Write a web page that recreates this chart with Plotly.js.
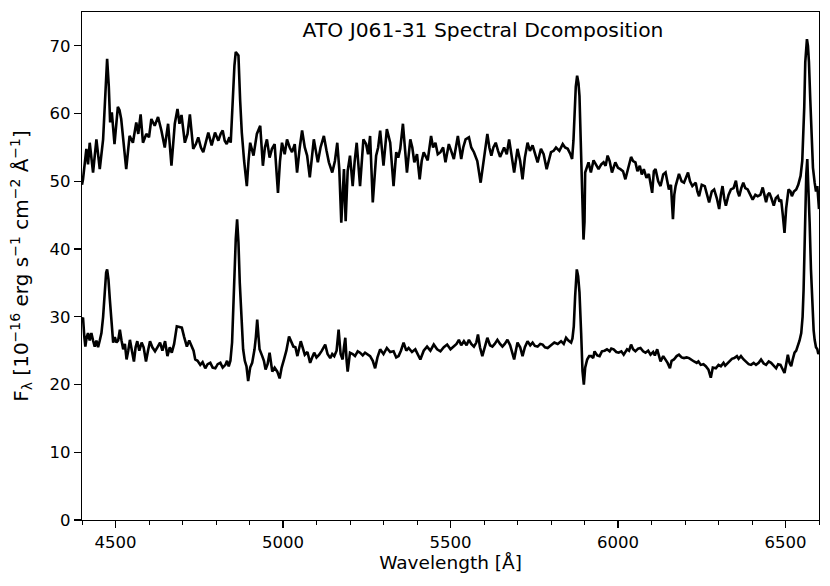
<!DOCTYPE html>
<html>
<head>
<meta charset="utf-8">
<script src="https://cdn.plot.ly/plotly-3.0.1.min.js"></script>
<style>html,body{margin:0;padding:0;background:#fff;}#chart{width:830px;height:586px;}</style>
</head>
<body>
<div id="chart"></div>
<script>
// Upper spectrum (wavelength in Angstrom, flux in 1e-16 erg/s/cm2/A)
const upperWave = [4400,4403,4413,4418,4423,4433,4443,4453,4463,4468,4475,4480,4484,4489,4497,4507,4512,4517,4525,4532,4542,4552,4562,4568,4575,4582,4592,4600,4607,4617,4627,4637,4647,4657,4667,4677,4685,4691,4697,4707,4715,4722,4732,4740,4747,4755,4762,4770,4777,4787,4797,4807,4814,4820,4826,4832,4840,4844,4850,4855,4859,4864,4867,4872,4877,4884,4892,4897,4902,4912,4922,4932,4940,4946,4952,4960,4967,4975,4980,4985,4991,4997,5005,5012,5020,5027,5035,5042,5050,5057,5065,5072,5080,5086,5092,5098,5104,5112,5122,5130,5137,5147,5155,5162,5168,5174,5178,5182,5187,5193,5200,5208,5214,5220,5230,5240,5248,5254,5260,5268,5278,5284,5290,5300,5310,5320,5330,5338,5344,5350,5358,5364,5370,5380,5386,5392,5400,5408,5414,5420,5432,5442,5448,5455,5462,5470,5478,5485,5495,5502,5510,5522,5532,5538,5545,5555,5562,5570,5580,5590,5600,5610,5616,5622,5628,5635,5642,5648,5660,5668,5675,5682,5690,5700,5708,5715,5722,5730,5737,5745,5752,5760,5770,5778,5787,5795,5800,5808,5815,5825,5835,5842,5850,5858,5863,5867,5870,5874,5878,5882,5885,5890,5894,5897,5900,5902,5912,5919,5927,5935,5942,5950,5957,5963,5969,5975,5982,5992,6000,6007,6015,6022,6030,6039,6045,6052,6058,6065,6071,6077,6085,6092,6102,6107,6112,6120,6127,6135,6142,6147,6152,6158,6164,6168,6172,6182,6190,6197,6203,6209,6215,6222,6232,6237,6242,6250,6259,6265,6272,6280,6287,6295,6302,6307,6312,6317,6322,6330,6337,6345,6352,6357,6362,6368,6374,6380,6387,6395,6402,6410,6417,6425,6432,6437,6442,6447,6452,6458,6465,6471,6477,6482,6487,6492,6497,6502,6509,6515,6519,6525,6532,6538,6545,6550,6553,6556,6559,6562,6564,6567,6570,6574,6577,6582,6587,6591,6595,6598,6600];
const upperFlux = [49.5,50.3,54.8,52.5,55.7,51.3,56.2,51.8,56.2,62,68.1,64,58.7,60.2,55.5,61.0,60.5,59.2,55,51.8,56.7,55.7,58.7,57,59.9,55.7,57.0,56.5,59.2,58.2,59.5,57.5,55.0,58.5,52.3,58.5,60.7,58.5,59.8,55.7,57,59.9,54.8,55.5,56.5,55,54.3,56,57.2,55.3,57.2,56.0,57,57.5,56,55.5,56.5,55.7,62,67.1,69.1,68.8,68.6,62,57.2,53,49.3,53,55.7,53.8,57.0,58.2,52.3,55,56.2,53.5,54.8,55.5,52,48.3,53,55.7,54,56.2,55,54.3,55.5,51.3,55,57.5,55,53.8,50.6,54,56.2,54.5,52.8,55,56.7,54.5,52.8,51.3,53,55.7,51.8,43.9,48,51.8,44.1,51.5,53.8,49.3,53,55.7,49.3,56.2,55.5,54,56.7,46.9,53.8,55,57.5,52.3,57.7,55.7,49.3,54.3,53.5,54.8,58.5,55,51.3,56.2,55,52.8,54,50.3,53,54.3,53.1,56.7,55,55.7,54,54.3,55,52.8,55.5,54.5,53.3,56.7,53.3,55,56.2,56.5,55,54.3,53,49.8,53.3,57,55,53.8,55,55.7,54.5,53.6,55.0,54,56.2,54,51.3,54.8,53,50.3,53.5,55.7,54.5,55.3,54,52.8,54.8,54,51.8,53.5,54.3,54.5,55.0,54.5,55.5,55,54.8,54,53.3,56,60.2,64,65.6,64.5,62.6,52.8,43,41.4,44,51.3,52.8,51.3,53.1,52.5,51.8,52.5,52.8,52.3,53.8,53,51.3,52.8,52,51.8,51.5,50.3,52,53.6,53,52.8,51.5,52.3,51,51.8,50.5,51.1,48.3,51.5,51.8,50,49.3,51,51.3,50,48.8,49.5,44.4,48,49.3,51.1,50,49.8,50.5,51.3,50,49.3,49.8,48.5,47.8,49.5,49.3,48,46.9,48.5,48.8,47.5,45.9,48,49.3,47.5,46.4,48,48.8,49,50.1,48.5,47.8,49,49.8,49,48.8,48,47.3,48,47.8,48,49.1,48,46.9,48,48.3,47.5,46.4,47.5,47.8,47,47.3,45,42.4,46,48.8,48.5,47.8,48.5,48.8,49.5,50.8,53,56,61,67.6,70.5,71.0,70,67.6,62,57.2,52,49.8,48.5,49.3,47.5,45.9];

// Lower spectrum
const lowerWave = [4400,4403,4407,4410,4414,4418,4423,4428,4433,4438,4443,4448,4453,4458,4463,4468,4472,4475,4479,4483,4488,4493,4498,4503,4508,4513,4518,4523,4528,4533,4538,4543,4549,4555,4560,4565,4571,4578,4584,4591,4597,4603,4610,4618,4625,4633,4640,4648,4655,4662,4668,4675,4683,4690,4698,4705,4713,4720,4728,4733,4738,4745,4753,4760,4768,4775,4783,4790,4798,4805,4813,4820,4828,4833,4838,4843,4848,4852,4855,4859,4863,4867,4871,4876,4881,4886,4891,4896,4902,4908,4915,4919,4923,4927,4930,4938,4943,4948,4954,4960,4968,4975,4983,4990,4996,5003,5010,5018,5024,5031,5037,5043,5053,5060,5065,5073,5081,5087,5093,5100,5108,5116,5126,5133,5141,5147,5153,5160,5166,5172,5178,5182,5186,5190,5193,5200,5208,5215,5223,5230,5238,5245,5253,5260,5268,5275,5282,5290,5300,5310,5320,5330,5338,5345,5352,5360,5368,5375,5385,5395,5402,5410,5420,5430,5440,5450,5460,5470,5480,5490,5500,5510,5518,5525,5532,5540,5548,5555,5562,5570,5577,5582,5588,5595,5602,5610,5618,5625,5632,5640,5648,5655,5662,5670,5678,5685,5690,5695,5700,5708,5715,5722,5730,5738,5745,5752,5760,5768,5775,5782,5790,5800,5810,5820,5830,5838,5845,5852,5860,5864,5868,5872,5877,5881,5885,5890,5894,5898,5902,5908,5914,5920,5926,5930,5938,5945,5952,5960,5967,5975,5980,5987,5995,6002,6010,6017,6027,6033,6039,6045,6052,6060,6067,6075,6082,6090,6097,6105,6110,6117,6122,6127,6135,6142,6148,6155,6160,6167,6175,6182,6190,6197,6205,6212,6220,6227,6235,6240,6247,6255,6262,6270,6277,6283,6292,6300,6307,6315,6320,6327,6335,6340,6347,6355,6360,6367,6375,6382,6390,6397,6405,6412,6420,6427,6435,6442,6450,6457,6465,6472,6478,6485,6490,6497,6502,6507,6512,6517,6522,6527,6532,6537,6542,6547,6551,6554,6557,6559,6562,6565,6568,6572,6576,6580,6584,6587,6591,6595,6598,6600];
const lowerFlux = [29.5,29.9,27,25.6,27,27.6,26.5,27.6,26.5,25.6,26.5,25.5,26.5,27.6,30,34.5,36.5,37.0,35.5,32.6,28.5,26.2,27,26.2,26.5,28.1,26.5,25.2,26,23.7,25,26.6,25,23.4,25.5,26.4,25,26.2,25.5,23.4,25,26.4,25.5,24.9,25.5,26.2,25,26.4,24.2,25.5,24.7,26,28.6,28.5,28.4,27,25.6,26.5,25.6,25,23.7,23.5,22.9,23.3,22.4,23,23.2,22.5,22.4,23,23.2,22.5,22.9,23.5,22.7,23.5,26.2,32,37.5,41.5,44.4,41,35.0,29,25.2,23.5,22.7,20.5,22.5,23.2,25.2,27,29.6,27,25.2,24.2,23.5,22.2,23,24.7,21.9,22.5,21.9,20.9,22.5,23.7,25,27.1,26.5,25.6,25.5,24.2,26.4,25,24.4,24.8,23.2,24,24.7,24,24.4,25,25.9,24.5,23.9,24.5,24.2,25,28.1,24.5,23.7,25.5,26.9,23.5,21.9,24.7,24.5,24.2,24.9,24.7,24.3,24.7,24.4,24.2,23.5,22.4,24,25.2,24.5,25.4,24.8,24.9,24,24.2,25,26.2,25,25.4,24.8,25.2,24.5,23.7,25,25.6,25,25.9,25.2,24.9,25.5,25.9,25.2,25.6,26,26.6,25.8,26.4,25.8,26.6,26,25.6,26.2,27.4,25.5,24.2,25.5,26.9,25.8,25.6,26,26.6,26,25.6,26,26.6,25.8,24.7,23.7,25,26.2,25.5,24.2,25.5,26.4,25.8,26.2,25.7,25.6,26,25.9,25.5,25.4,25.8,26.2,26,26.4,26,26.9,26.5,26.2,26.8,28.6,33,37.0,36,33.6,27.6,22,20.0,22.5,23.7,24.2,24.2,23.9,24.9,24.3,24.2,24.9,25,25.2,24.9,25.3,25.2,24.8,24.7,24.9,24.4,25.2,25,25.9,25.2,24.9,25.3,25.4,24.9,24.7,25,24.4,24.8,24.3,25.2,24.2,23.4,24.2,23.7,23.2,22.4,23.5,23.7,24.2,24.4,24,23.9,24,23.9,23.6,23.4,23.2,23.4,22.9,23,22.7,22.2,21.0,22.5,22.4,22.9,22.7,23.2,22.8,23.2,23.5,23.8,23.9,24.2,23.8,24.2,23.7,23.4,23,22.9,23.2,22.9,23.2,23.7,23.1,22.9,23.4,23.2,22.8,22.4,23,22.9,22.4,21.7,23,24.4,23.2,22.7,23.8,24.7,25,25.7,26.5,27.6,30,34.0,40,46.4,51,53.3,50,44,37,31.6,28,26.6,25.5,25.2,24.5,24.7];

const titleText = "ATO J061-31 Spectral Dcomposition";
const xLabel = "Wavelength [Å]";
const yLabel = "F<sub>λ</sub> [10<sup>−16</sup> erg s<sup>−1</sup> cm<sup>−2</sup> Å<sup>−1</sup>]";
const xTicks = [4500, 5000, 5500, 6000, 6500];
const yTicks = [0, 10, 20, 30, 40, 50, 60, 70];

const lineStyle = {color: '#000000', width: 2.6};
const traces = [
  {x: upperWave, y: upperFlux, type: 'scatter', mode: 'lines', line: lineStyle, hoverinfo: 'skip'},
  {x: lowerWave, y: lowerFlux, type: 'scatter', mode: 'lines', line: lineStyle, hoverinfo: 'skip'}
];

const fontFam = '"DejaVu Sans", Verdana, sans-serif';
const layout = {
  width: 830, height: 586,
  margin: {l: 82, r: 11, t: 12, b: 66},
  paper_bgcolor: '#ffffff', plot_bgcolor: '#ffffff',
  showlegend: false,
  font: {family: fontFam, size: 16.5, color: '#000000'},
  title: {text: titleText, font: {family: fontFam, size: 20.3, color: '#000'}, x: 483/830, xanchor: 'center', xref: 'container', y: 1 - 30/586, yanchor: 'middle', yref: 'container'},
  xaxis: {
    range: [4400, 6600], tickvals: xTicks, ticktext: xTicks.map(String),
    showgrid: false, zeroline: false, showline: true, mirror: true, linecolor: '#000', linewidth: 1.2,
    ticks: 'outside', ticklen: 7, tickwidth: 1.2, tickcolor: '#000',
    tickfont: {family: fontFam, size: 16.5, color: '#000'},
    minor: {tick0: 4400, dtick: 100, ticks: 'outside', ticklen: 4, tickwidth: 1, tickcolor: '#000', showgrid: false},
    title: {text: xLabel, font: {family: fontFam, size: 18.5, color: '#000'}, standoff: 4}
  },
  yaxis: {
    range: [0, 75], tickvals: yTicks, ticktext: yTicks.map(String),
    showgrid: false, zeroline: false, showline: true, mirror: true, linecolor: '#000', linewidth: 1.2,
    ticks: 'outside', ticklen: 7, tickwidth: 1.2, tickcolor: '#000',
    tickfont: {family: fontFam, size: 16.5, color: '#000'},
    title: {text: yLabel, font: {family: fontFam, size: 20, color: '#000'}, standoff: 15}
  }
};

Plotly.newPlot('chart', traces, layout, {displayModeBar: false, staticPlot: true});
</script>
</body>
</html>
